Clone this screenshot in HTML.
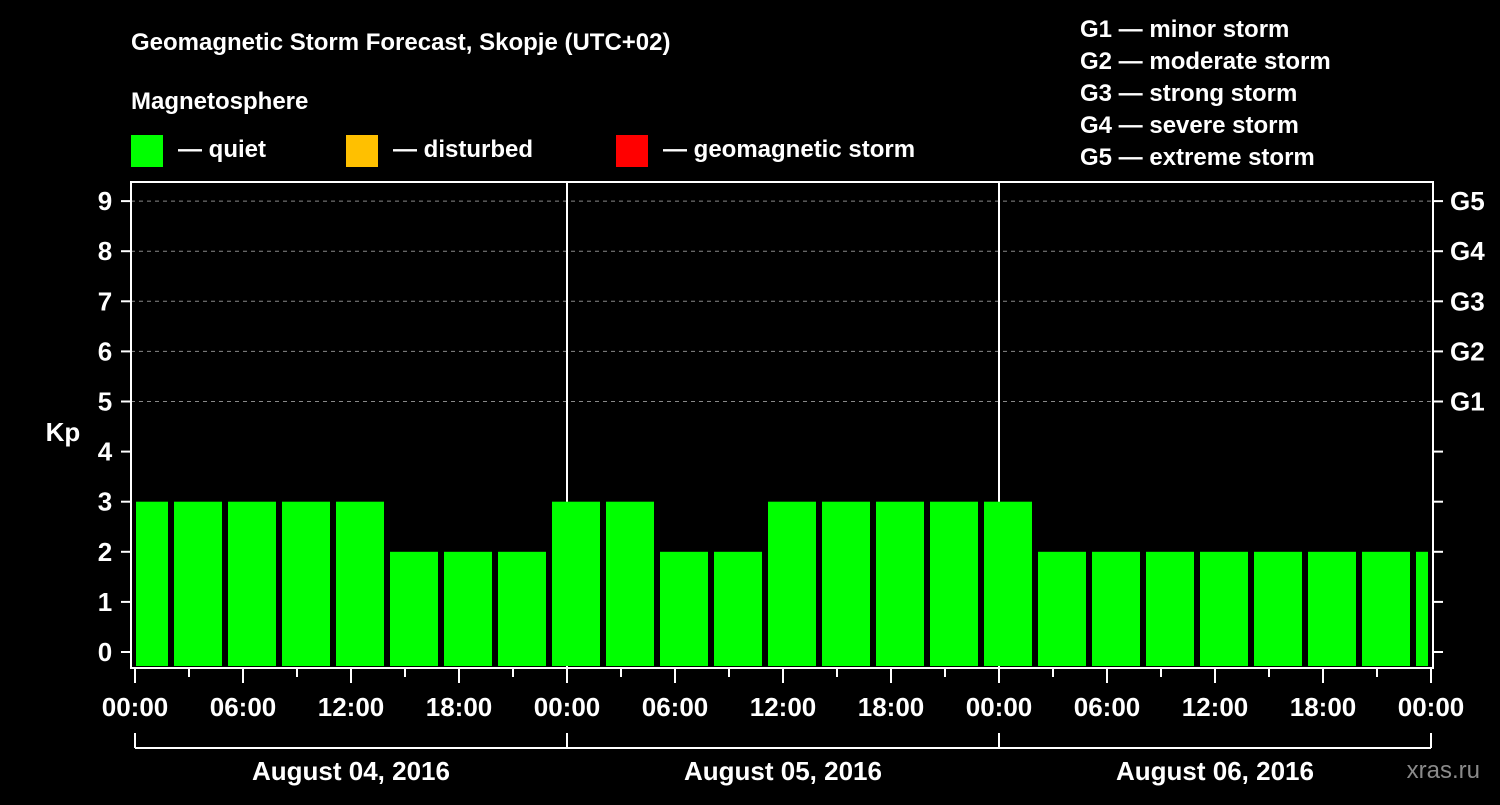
<!DOCTYPE html>
<html><head><meta charset="utf-8"><style>
body{margin:0;background:#000;width:1500px;height:800px;overflow:hidden}
svg text{font-family:"Liberation Sans",Arial,sans-serif;font-weight:bold;fill:#fff}
</style></head><body>
<svg id="c" width="1500" height="800" xmlns="http://www.w3.org/2000/svg">
<rect width="1500" height="800" fill="#000"/>
<text x="131" y="50" font-size="24">Geomagnetic Storm Forecast, Skopje (UTC+02)</text>
<text x="131" y="109" font-size="24">Magnetosphere</text>
<g><rect x="131" y="135" width="32" height="32" fill="#00ff00"/><text x="178" y="157" font-size="24">— quiet</text></g>
<g><rect x="346" y="135" width="32" height="32" fill="#ffc000"/><text x="393" y="157" font-size="24">— disturbed</text></g>
<g><rect x="616" y="135" width="32" height="32" fill="#ff0000"/><text x="663" y="157" font-size="24">— geomagnetic storm</text></g>
<g font-size="24">
<text x="1080" y="37">G1 — minor storm</text>
<text x="1080" y="69">G2 — moderate storm</text>
<text x="1080" y="101">G3 — strong storm</text>
<text x="1080" y="133">G4 — severe storm</text>
<text x="1080" y="165">G5 — extreme storm</text>
</g>
<text x="63" y="441" font-size="26" text-anchor="middle">Kp</text>
<g id="grid"></g><g id="bars"></g><g id="axes"></g>
<text x="1480" y="778" font-size="24" text-anchor="end" fill="#888" style="fill:#8a8a8a;font-weight:normal">xras.ru</text>
</svg>
<script>
const kpValues=[3,3,3,3,3,2,2,2,3,3,2,2,3,3,3,3,3,2,2,2,2,2,2,2,2];
const yTicks=[0,1,2,3,4,5,6,7,8,9];
const gLabels=["G1","G2","G3","G4","G5"];
const gLevels=[5,6,7,8,9];
const xTickLabels=["00:00","06:00","12:00","18:00","00:00","06:00","12:00","18:00","00:00","06:00","12:00","18:00","00:00"];
const dayLabels=["August 04, 2016","August 05, 2016","August 06, 2016"];
const NS="http://www.w3.org/2000/svg";
const X0=135,PXH=18,L=131,R=1433,T=182,B=668;
const y=v=>652-v*50.1;
const x=h=>X0+h*PXH;
function mk(t,a,p){const e=document.createElementNS(NS,t);for(const k in a)e.setAttribute(k,a[k]);p.appendChild(e);return e;}
const grid=document.getElementById('grid'),bars=document.getElementById('bars'),axes=document.getElementById('axes');
gLevels.forEach(v=>{const l=mk('line',{x1:L,x2:R,y1:y(v),y2:y(v),stroke:'#888','stroke-dasharray':'4,4','stroke-width':1},grid);

});
[1,2].forEach(d=>{const l=mk('line',{x1:x(24*d),x2:x(24*d),y1:T,y2:B,stroke:'#fff','stroke-width':2},grid);

});
kpValues.forEach((v,i)=>{let x1=x(3*i)-15,x2=x(3*i)+33;x1=Math.max(x1,136);x2=Math.min(x2,1428);
const c=v>=5?'#ff0000':v>=4?'#ffc000':'#00ff00';
const r=mk('rect',{x:x1,y:y(v),width:x2-x1,height:666-y(v),fill:c},bars);

});
const f=mk('rect',{x:L,y:T,width:R-L,height:B-T,fill:'none',stroke:'#fff','stroke-width':2},axes);


yTicks.forEach(v=>{mk('line',{x1:121,x2:L,y1:y(v),y2:y(v),stroke:'#fff','stroke-width':2},axes);
mk('line',{x1:R,x2:1443,y1:y(v),y2:y(v),stroke:'#fff','stroke-width':2},axes);
const t=mk('text',{x:105,y:y(v)+9,'font-size':26,'text-anchor':'middle'},axes);t.textContent=v;

});
gLabels.forEach((g,i)=>{const t=mk('text',{x:1450,y:y(gLevels[i])+9,'font-size':26},axes);t.textContent=g;

});
for(let h=0;h<=72;h+=3){mk('line',{x1:x(h),x2:x(h),y1:B,y2:h%6?677:683,stroke:'#fff','stroke-width':2},axes);}
xTickLabels.forEach((s,i)=>{const t=mk('text',{x:x(6*i),y:716,'font-size':26,'text-anchor':'middle'},axes);t.textContent=s;

});
mk('line',{x1:x(0),x2:x(72),y1:748,y2:748,stroke:'#fff','stroke-width':2},axes);
for(let d=0;d<=3;d++)mk('line',{x1:x(24*d),x2:x(24*d),y1:733,y2:748,stroke:'#fff','stroke-width':2},axes);
dayLabels.forEach((s,i)=>{const t=mk('text',{x:x(24*i+12),y:780,'font-size':26,'text-anchor':'middle'},axes);t.textContent=s;

});
</script>
</body></html>
